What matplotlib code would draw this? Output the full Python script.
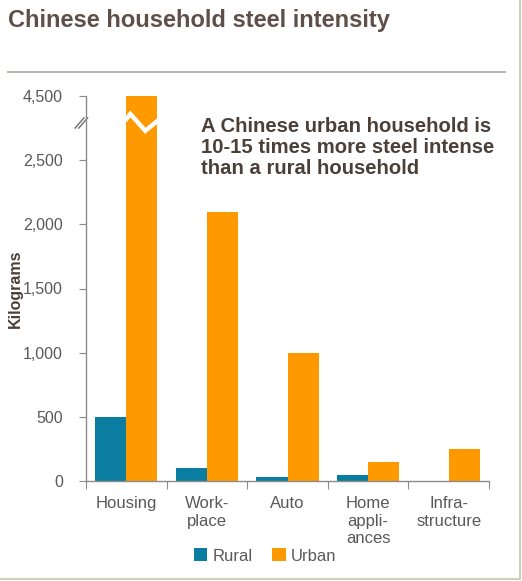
import numpy as np
import matplotlib
matplotlib.use("Agg")
import matplotlib.pyplot as plt
import matplotlib.transforms as mtrans
from matplotlib.lines import Line2D

categories = ["Housing", "Work-\nplace", "Auto", "Home\nappli-\nances", "Infra-\nstructure"]
rural = [500, 100, 30, 50, 0]
urban = [4500, 2100, 1000, 150, 250]
yticks = [0, 500, 1000, 1500, 2000, 2500, 4500]
ytick_labels = ["0", "500", "1,000", "1,500", "2,000", "2,500", "4,500"]

BREAK = 2500
SQUEEZE = 0.25

def fwd(v):
    v = np.asarray(v, dtype=float)
    return np.where(v <= BREAK, v, BREAK + (v - BREAK) * SQUEEZE)

def inv(y):
    y = np.asarray(y, dtype=float)
    return np.where(y <= BREAK, y, BREAK + (y - BREAK) / SQUEEZE)

plt.rcParams['font.family'] = ['Liberation Sans', 'DejaVu Sans']

W, H = 522, 581
fig = plt.figure(figsize=(W / 100, H / 100), dpi=100)
ax = fig.add_axes([86 / W, 1 - 481 / H, (489 - 86) / W, (481 - 96) / H])
ax.set_yscale('function', functions=(fwd, inv))

rural_c = '#0A7DA0'
urban_c = '#FF9900'
x = np.arange(len(categories))
bw = 0.385
ax.bar(x - bw / 2, rural, bw, color=rural_c, label='Rural', linewidth=0)
ax.bar(x + bw / 2, urban, bw, color=urban_c, label='Urban', linewidth=0)

ax.set_xlim(-0.5, len(categories) - 0.5)
ax.set_ylim(0, 4500)

gray = '#8C8C8C'
for s in ['top', 'right']:
    ax.spines[s].set_visible(False)
for s in ['left', 'bottom']:
    ax.spines[s].set_color(gray)
    ax.spines[s].set_linewidth(1)

ax.set_yticks(yticks)
ax.set_yticklabels(ytick_labels)
ax.yaxis.set_minor_locator(matplotlib.ticker.NullLocator())
ax.tick_params(axis='y', direction='out', length=5, color=gray, labelsize=11.5,
               labelcolor='#595959', pad=11.5)

ax.set_xticks(np.arange(len(categories) + 1) - 0.5, minor=False)
ax.set_xticklabels([])
ax.tick_params(axis='x', direction='out', length=6, color=gray)
ax.set_xticks(x, minor=True)
ax.set_xticklabels(categories, minor=True)
ax.tick_params(axis='x', which='minor', length=0, labelsize=12,
               labelcolor='#595959', pad=11)
for lab in ax.get_xticklabels(minor=True):
    lab.set_linespacing(1.2)
    lab.set_verticalalignment('top')

ax.set_ylabel('Kilograms', fontsize=11.5, fontweight='bold', color='#4A4038')
ax.yaxis.set_label_coords(-(86 - 23) / (489 - 86), 0.50)

# axis break marks
bt = mtrans.blended_transform_factory(ax.transAxes, ax.transData)
ybk = 3700
for dx in (-0.009, 0.0):
    ax.plot([-0.018 + dx, 0.004 + dx], [ybk - 200, ybk + 120], transform=bt,
            color='#6E6E6E', lw=1.0, clip_on=False)

# zigzag break on housing urban bar
zx = np.array([0.0, 0.05, 0.236, 0.39])
zy = [3780, 3940, 3415, 3730]
ax.plot(zx, zy, color='white', lw=3.2, solid_joinstyle='miter', zorder=5)

# annotation
fig.text(201 / W, 1 - 117 / H,
         "A Chinese urban household is\n10-15 times more steel intense\nthan a rural household",
         fontsize=14.6, fontweight='bold', color='#4A4038', va='top', ha='left',
         linespacing=1.15)

# title
fig.text(8 / W, 1 - 21 / H, "Chinese household steel intensity", fontsize=17,
         fontweight='bold', color='#5E5048', va='center', ha='left')
fig.add_artist(Line2D([8 / W, 505 / W], [1 - 72 / H, 1 - 72 / H],
                      transform=fig.transFigure, color='#B5ADA5', lw=1.3))

# frame
fig.add_artist(Line2D([520 / W, 520 / W], [1 - 579 / H, 1.0], transform=fig.transFigure,
                      color='#CFD0B8', lw=1.5))
fig.add_artist(Line2D([0, 520 / W], [1 - 579 / H, 1 - 579 / H], transform=fig.transFigure,
                      color='#CFD0B8', lw=1.5))

leg = fig.legend(loc='center', bbox_to_anchor=(265 / W, 1 - 556 / H), ncol=2,
                 frameon=False, fontsize=12, handlelength=0.8, handleheight=0.8,
                 handletextpad=0.3, columnspacing=1.2)
for t in leg.get_texts():
    t.set_color('#595959')

fig.savefig('out.png', dpi=100)
